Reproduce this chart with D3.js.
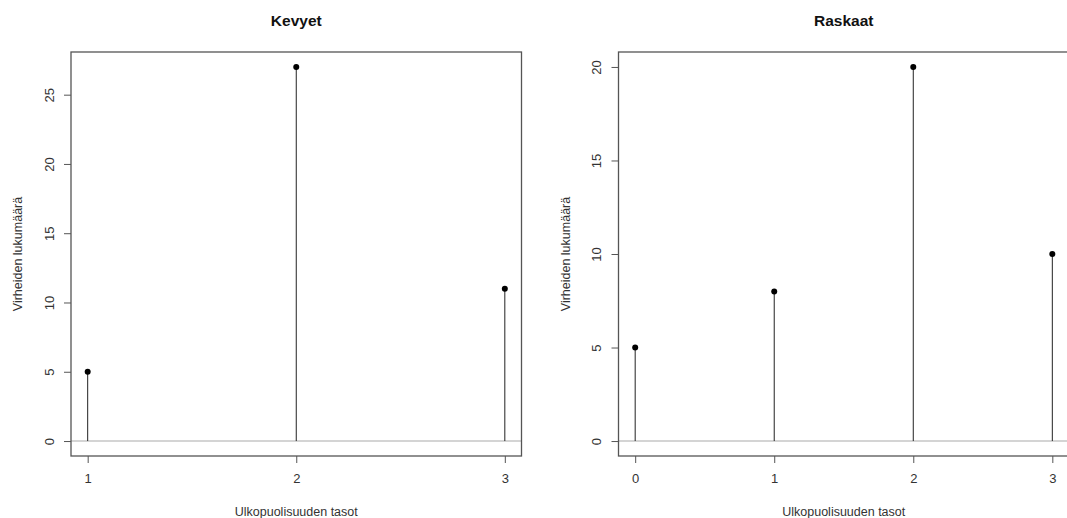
<!DOCTYPE html>
<html>
<head>
<meta charset="utf-8">
<script src="https://cdn.jsdelivr.net/npm/d3@7"></script>
<style>
  body { margin: 0; background: #fff; }
  svg { display: block; font-family: "Liberation Sans", Arial, sans-serif; }
</style>
</head>
<body>
<svg id="chart" width="1067" height="518"></svg>
<script>
// Data
const kevyetLevels = [1, 2, 3];
const kevyetCounts = [5, 27, 11];
const raskaatLevels = [0, 1, 2, 3];
const raskaatCounts = [5, 8, 20, 10];
const kevyetYTicks = [0, 5, 10, 15, 20, 25];
const raskaatYTicks = [0, 5, 10, 15, 20];
const yLabel = "Virheiden lukumäärä";
const xLabel = "Ulkopuolisuuden tasot";

const svg = d3.select("#chart");

// R-tyylinen 4 % laajennus
function padDomain(lo, hi) {
    const p = (hi - lo) * 0.04;
    return [lo - p, hi + p];
}

function drawPanel(opts) {
    const { title, levels, counts, yTicks, left, right, labelX } = opts;
    const top = 52, bottom = 456;

    const x = d3.scaleLinear()
        .domain(padDomain(d3.min(levels), d3.max(levels)))
        .range([left, right]);
    const y = d3.scaleLinear()
        .domain(padDomain(0, d3.max(counts)))
        .range([bottom, top]);

    const g = svg.append("g");

    // nollaviiva
    g.append("line")
        .attr("x1", left).attr("x2", right)
        .attr("y1", y(0)).attr("y2", y(0))
        .attr("stroke", "#d4d4d4")
        .attr("stroke-width", 2);

    // pystyviivat
    g.selectAll(".stem")
        .data(levels)
        .enter()
        .append("line")
        .attr("class", "stem")
        .attr("x1", d => x(d)).attr("x2", d => x(d))
        .attr("y1", y(0))
        .attr("y2", (d, i) => y(counts[i]))
        .attr("stroke", "#222")
        .attr("stroke-width", 1);

    g.selectAll(".pt")
        .data(levels)
        .enter()
        .append("circle")
        .attr("class", "pt")
        .attr("cx", d => x(d))
        .attr("cy", (d, i) => y(counts[i]))
        .attr("r", 3)
        .attr("fill", "#000");

    // laatikko
    g.append("rect")
        .attr("x", left).attr("y", top)
        .attr("width", right - left).attr("height", bottom - top)
        .attr("fill", "none")
        .attr("stroke", "#555")
        .attr("stroke-width", 1.3);

    // x-akseli
    const xAxis = d3.axisBottom(x)
        .tickValues(levels)
        .tickFormat(d3.format("d"))
        .tickSize(7)
        .tickPadding(11)
        .tickSizeOuter(0);
    const gx = g.append("g")
        .attr("transform", `translate(0,${bottom})`)
        .call(xAxis);
    gx.select(".domain").remove();
    gx.selectAll("line").attr("stroke", "#555");
    gx.selectAll("text").attr("fill", "#333").style("font-size", "13px");

    // y-akseli
    const yAxis = d3.axisLeft(y)
        .tickValues(yTicks)
        .tickSize(7)
        .tickSizeOuter(0)
        .tickFormat(d3.format("d"));
    const gy = g.append("g")
        .attr("transform", `translate(${left},0)`)
        .call(yAxis);
    gy.select(".domain").remove();
    gy.selectAll("line").attr("stroke", "#555");
    gy.selectAll("text")
        .attr("fill", "#333")
        .style("font-size", "13px")
        .attr("x", null).attr("dy", null)
        .attr("text-anchor", "middle")
        .attr("dominant-baseline", "central")
        .attr("transform", "translate(-22,0) rotate(-90)");

    // otsikko
    g.append("text")
        .attr("x", (left + right) / 2)
        .attr("y", 26)
        .attr("text-anchor", "middle")
        .attr("font-weight", "bold")
        .attr("font-size", "15.5px")
        .attr("fill", "#111")
        .text(title);

    g.append("text")
        .attr("x", (left + right) / 2)
        .attr("y", 516)
        .attr("text-anchor", "middle")
        .attr("font-size", "12.5px")
        .attr("fill", "#333")
        .text(xLabel);

    g.append("text")
        .attr("transform", `translate(${labelX},${(top + bottom) / 2}) rotate(-90)`)
        .attr("text-anchor", "middle")
        .attr("dominant-baseline", "central")
        .attr("font-size", "12.5px")
        .attr("fill", "#333")
        .text(yLabel);
}

drawPanel({
    title: "Kevyet",
    levels: kevyetLevels,
    counts: kevyetCounts,
    yTicks: kevyetYTicks,
    left: 71, right: 521.5, labelX: 18
});

drawPanel({
    title: "Raskaat",
    levels: raskaatLevels,
    counts: raskaatCounts,
    yTicks: raskaatYTicks,
    left: 618.5, right: 1069, labelX: 566
});
</script>
</body>
</html>
